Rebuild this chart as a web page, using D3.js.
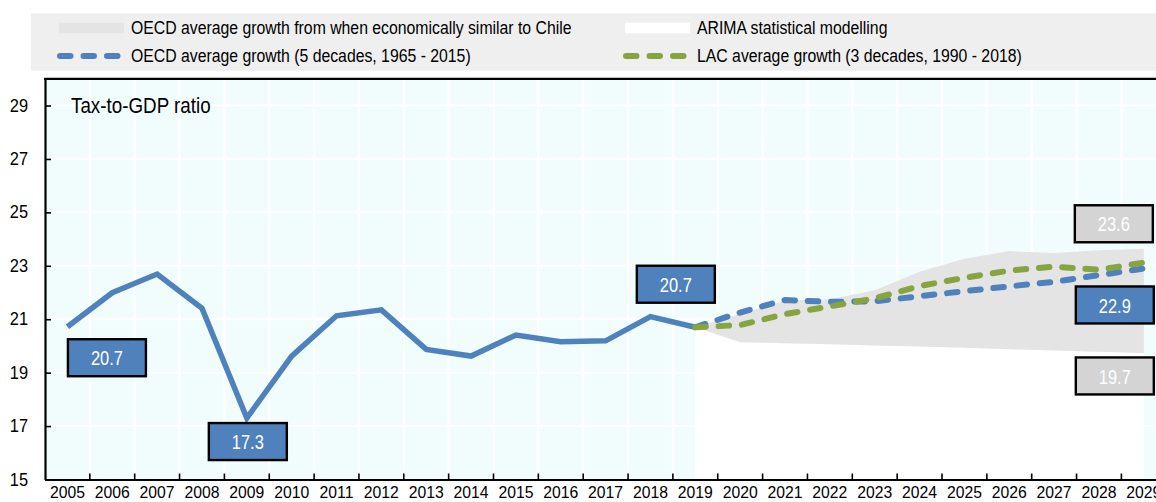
<!DOCTYPE html>
<html><head><meta charset="utf-8">
<script src="https://cdn.jsdelivr.net/npm/d3@7"></script>
<style>html,body{margin:0;padding:0;background:#fff;overflow:hidden}</style>
</head><body><svg id="c" width="1156" height="502"></svg>
<script>
// ---------- data ----------
const years = ["2005","2006","2007","2008","2009","2010","2011","2012","2013","2014","2015","2016","2017",
  "2018","2019","2020","2021","2022","2023","2024","2025","2026","2027","2028","2029"];
const histYears = ["2005","2006","2007","2008","2009","2010","2011","2012","2013","2014","2015","2016","2017","2018","2019"];
const histValues = [20.72, 21.99, 22.69, 21.41, 17.3, 19.62, 21.13, 21.35, 19.87, 19.62, 20.41, 20.16, 20.19, 21.1, 20.7];
const projYears = ["2019","2020","2021","2022","2023","2024","2025","2026","2027","2028","2029"];
const oecdGrowth = [20.7, 21.25, 21.72, 21.65, 21.67, 21.86, 22.05, 22.23, 22.4, 22.65, 22.9];
const lacGrowth  = [20.7, 20.78, 21.19, 21.48, 21.78, 22.24, 22.55, 22.82, 22.97, 22.85, 23.12];
const arimaLower = [20.7, 20.14, 20.1, 20.06, 20.02, 19.98, 19.93, 19.88, 19.83, 19.78, 19.74];
const arimaUpper = [20.7, 21.2, 21.69, 21.75, 22.08, 22.78, 23.26, 23.55, 23.48, 23.58, 23.64];
const yTicks = [15, 17, 19, 21, 23, 25, 27, 29];
const chartTitle = "Tax-to-GDP ratio";
const legendLabels = [
  "OECD average growth from when economically similar to Chile",
  "ARIMA statistical modelling",
  "OECD average growth (5 decades, 1965 - 2015)",
  "LAC average growth (3 decades, 1990 - 2018)"
];
const labelYears  = ["2005", "2009", "2019", "2029", "2029", "2029"];
const labelValues = [20.7, 17.3, 20.7, 23.6, 22.9, 19.7];
const labelKinds  = ["blue", "blue", "blue", "grey", "blue", "grey"];

// ---------- styling / layout (not data) ----------
const BLUE = "#4f81bd", GREEN = "#86a540", BAND = "#e4e4e4", PLOTBG = "#f1fdfd", LEGBG = "#efefef", LBLGREY = "#d4d4d4";
const labelOffsets = [[39.5, 30.5], [1, 23.5], [-19.5, -43], [-30, -26], [-29, 36.5], [-29, 22]];
const FAM = "'Liberation Sans Narrow','Arial Narrow','Liberation Sans',Arial,sans-serif";

// condensed text helper: font size from cap height, horizontal squeeze from target width
const cv = document.createElement("canvas").getContext("2d");
function squeeze(text, fs, w) { cv.font = fs + "px " + FAM; return Math.min(1, w / cv.measureText(text).width); }
const fsTick = 16.8, sxTick = squeeze("2005", fsTick, 35);
const fsLegend = 17.5, sxLegend = squeeze(legendLabels[0], fsLegend, 441);
const fsTitle = 21.5, sxTitle = squeeze(chartTitle, fsTitle, 140);
const fsBox = 21, sxBox = squeeze("20.7", fsBox, 32);

const svg = d3.select("#c").style("font-family", FAM);

const x = d3.scaleBand().domain(years).range([45, 45 + 25 * 44.85]).padding(0);
const xc = d => x(d) + x.bandwidth() / 2;
const y = d3.scaleLinear().domain([15, 30]).range([479.5, 78.8]);
const [X0, X1] = x.range();

// plot background
svg.append("rect").attr("x", X0).attr("y", y(30)).attr("width", X1 - X0).attr("height", y(15) - y(30)).attr("fill", PLOTBG);

// grid
const grid = svg.append("g").attr("stroke", "#fff").attr("stroke-width", 2);
grid.selectAll("line.h").data(yTicks.filter(t => t > 15)).join("line")
  .attr("x1", X0).attr("x2", X1).attr("y1", d => y(d)).attr("y2", d => y(d));
grid.selectAll("line.v").data(years.slice(1)).join("line")
  .attr("x1", d => x(d)).attr("x2", d => x(d)).attr("y1", y(30)).attr("y2", y(15));

// projection areas
const proj = projYears.map((yr, i) => ({yr, lo: arimaLower[i], hi: arimaUpper[i], oecd: oecdGrowth[i], lac: lacGrowth[i]}));
svg.append("path").datum(proj).attr("fill", "#fff")
  .attr("d", d3.area().x(d => xc(d.yr)).y0(y(15)).y1(d => y(d.lo)));
svg.append("path").datum(proj).attr("fill", BAND)
  .attr("d", d3.area().x(d => xc(d.yr)).y0(d => y(d.lo)).y1(d => y(d.hi)));

// historical line
svg.append("path").datum(histYears.map((yr, i) => ({yr, v: histValues[i]})))
  .attr("fill", "none").attr("stroke", BLUE).attr("stroke-width", 5.5).attr("stroke-linejoin", "miter")
  .attr("d", d3.line().x(d => xc(d.yr)).y(d => y(d.v)));

// dashed projections
svg.append("path").datum(proj).attr("fill", "none").attr("stroke", BLUE).attr("stroke-width", 6)
  .attr("stroke-linecap", "round").attr("stroke-dasharray", "10.5,12.8")
  .attr("d", d3.line().x(d => xc(d.yr)).y(d => y(d.oecd)));
svg.append("path").datum(proj).attr("fill", "none").attr("stroke", GREEN).attr("stroke-width", 6)
  .attr("stroke-linecap", "round").attr("stroke-dasharray", "10.5,12.8")
  .attr("d", d3.line().x(d => xc(d.yr)).y(d => y(d.lac)));

// axes
const yPad = 17;
const yAxis = svg.append("g").attr("transform", `translate(${X0},0)`)
  .call(d3.axisLeft(y).tickValues(yTicks).tickSizeInner(-6).tickSizeOuter(0).tickPadding(yPad).tickFormat(d3.format("d")));
yAxis.select(".domain").attr("stroke", "#000").attr("stroke-width", 2.2);
yAxis.selectAll(".tick line").attr("stroke", "#000").attr("stroke-width", 1.6);
yAxis.selectAll("text").attr("font-size", 17.5).attr("fill", "#000").attr("font-family", FAM)
  .attr("x", -yPad / sxTick).attr("transform", `scale(${sxTick},1)`);

const xAxis = svg.append("g").attr("transform", `translate(0,${y(15)})`)
  .call(d3.axisBottom(x).tickSizeInner(0).tickSizeOuter(0).tickPadding(0));
xAxis.select(".domain").attr("stroke", "#000").attr("stroke-width", 2.2);
xAxis.selectAll("text").attr("dy", null).attr("y", 18.3).attr("font-size", fsTick).attr("fill", "#000")
  .attr("font-family", FAM).attr("transform", `scale(${sxTick},1)`);
xAxis.selectAll("line.bt").data(years.slice(1)).join("line").attr("class", "bt")
  .attr("x1", d => x(d)).attr("x2", d => x(d)).attr("y1", 0).attr("y2", -6)
  .attr("stroke", "#000").attr("stroke-width", 1.6);

// top border
svg.append("line").attr("x1", X0 - 1).attr("x2", X1).attr("y1", y(30)).attr("y2", y(30))
  .attr("stroke", "#000").attr("stroke-width", 2.2);

// title inside plot
svg.append("text").attr("transform", `translate(71,113) scale(${sxTitle},1)`)
  .attr("font-size", fsTitle).attr("fill", "#000").text(chartTitle);

// value labels
const lbl = svg.append("g").selectAll("g").data(labelYears.map((yr, i) => ({yr, v: labelValues[i], k: labelKinds[i], o: labelOffsets[i]})))
  .join("g").attr("transform", d => `translate(${xc(d.yr) + d.o[0]},${y(d.v) + d.o[1]})`);
lbl.append("rect").attr("x", -39).attr("y", -18.5).attr("width", 78).attr("height", 37)
  .attr("fill", d => d.k === "blue" ? BLUE : LBLGREY).attr("stroke", "#000").attr("stroke-width", 2.4);
lbl.append("text").attr("text-anchor", "middle").attr("dy", "0.36em").attr("font-size", fsBox).attr("fill", "#fff")
  .attr("transform", `scale(${sxBox},1)`).text(d => d3.format(".1f")(d.v));

// legend
const leg = svg.append("g");
leg.append("rect").attr("x", 31).attr("y", 13.3).attr("width", 1200).attr("height", 57.4).attr("fill", LEGBG);
const cols = [59, 625], rows = [28, 56];
leg.append("rect").attr("x", cols[0]).attr("y", rows[0] - 5.3).attr("width", 65).attr("height", 10.6).attr("fill", BAND);
leg.append("rect").attr("x", cols[1]).attr("y", rows[0] - 5.3).attr("width", 65).attr("height", 10.6).attr("fill", "#fff");
[[cols[0], BLUE], [cols[1], GREEN]].forEach(([cx, col]) => {
  leg.append("line").attr("x1", cx + 1).attr("x2", cx + 58.5).attr("y1", rows[1]).attr("y2", rows[1])
    .attr("stroke", col).attr("stroke-width", 6).attr("stroke-linecap", "round").attr("stroke-dasharray", "10.5,13");
});
const legPos = [[cols[0], rows[0]], [cols[1], rows[0]], [cols[0], rows[1]], [cols[1], rows[1]]];
leg.selectAll("text").data(legendLabels).join("text")
  .attr("transform", (d, i) => `translate(${legPos[i][0] + 72},${legPos[i][1]}) scale(${sxLegend},1)`)
  .attr("dy", "0.35em").attr("font-size", fsLegend).attr("fill", "#000").text(d => d);
</script></body></html>
